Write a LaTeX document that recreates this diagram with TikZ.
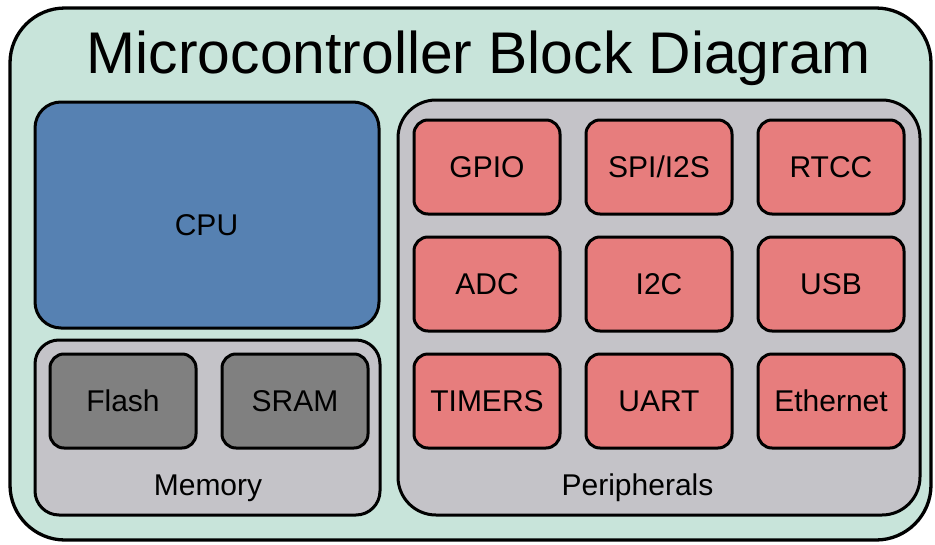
\documentclass[tikz,border=0pt]{standalone}
\usepackage{fontspec}
\setmainfont{Liberation Sans}
\usepackage{tikz}
\usepackage{xcolor}

\definecolor{boardbg}{RGB}{200,228,218}
\definecolor{cpublue}{RGB}{86,129,178}
\definecolor{groupgray}{RGB}{196,195,200}
\definecolor{memgray}{RGB}{128,128,128}
\definecolor{perired}{RGB}{231,125,125}

\begin{document}
\begin{tikzpicture}[x=1pt,y=-1pt,
    group/.style={draw,line width=3pt,fill=groupgray,rounded corners=30pt,inner sep=0pt},
    block/.style={draw,line width=3pt,rounded corners=14pt,inner sep=0pt,
        minimum width=146pt,minimum height=94pt,font=\fontsize{30}{30}\selectfont},
    memblock/.style={block,fill=memgray},
    periblock/.style={block,fill=perired},
    label/.style={anchor=base,inner sep=0pt,font=\fontsize{30}{30}\selectfont}]
        \useasboundingbox (0,0) rectangle (935,544);

        % Draw the board
        \node[draw,line width=3.3pt,fill=boardbg,rounded corners=55pt,inner sep=0pt,
            minimum width=921pt,minimum height=532pt] (board) at (470.5,274) {};
        \node[anchor=base,inner sep=0pt,font=\fontsize{58.8}{58.8}\selectfont] (title) at (479,73.3) {Microcontroller Block Diagram};

        % Draw the CPU
        \node[draw,line width=3pt,fill=cpublue,rounded corners=26pt,inner sep=0pt,
            minimum width=344pt,minimum height=226pt] (cpu) at (207,215) {};
        \node[label] (cpulabel) at (206.5,235) {CPU};

        % Draw the memory
        \node[group,minimum width=345pt,minimum height=175pt,rounded corners=24pt] (memory) at (207.5,427.5) {};
        \node[memblock] (flash) at (123,401) {Flash};
        \node[memblock] (sram) at (295,401) {SRAM};
        \node[label] (memlabel) at (208,495) {Memory};

        % Draw the peripherals
        \node[group,minimum width=522pt,minimum height=415pt,rounded corners=38pt] (periph) at (659,307.5) {};
        \node[periblock] (gpio) at (487,167) {GPIO};
        \node[periblock] (spi) at (659,167) {SPI/I2S};
        \node[periblock] (rtcc) at (831,167) {RTCC};
        \node[periblock] (adc) at (487,284) {ADC};
        \node[periblock] (itwoc) at (659,284) {I2C};
        \node[periblock] (usb) at (831,284) {USB};
        \node[periblock] (timers) at (487,401) {TIMERS};
        \node[periblock] (uart) at (659,401) {UART};
        \node[periblock] (ethernet) at (831,401) {Ethernet};
        \node[label] (perilabel) at (637.5,495) {Peripherals};
    \end{tikzpicture}
\end{document}
